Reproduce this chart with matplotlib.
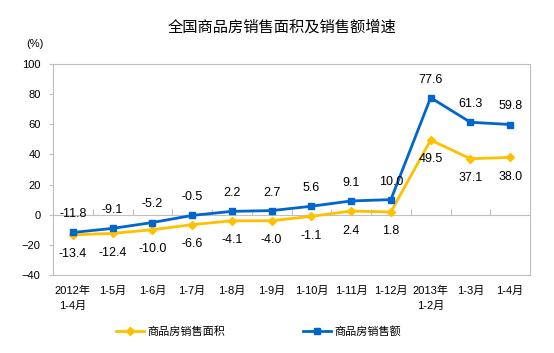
import numpy as np
import matplotlib
matplotlib.use("Agg")
import matplotlib.pyplot as plt

plt.rcParams['font.family'] = ['Liberation Sans', 'Noto Sans CJK SC', 'DejaVu Sans']

# Categories (months, cumulative)
months = ["2012年\n1-4月", "1-5月", "1-6月", "1-7月", "1-8月", "1-9月",
          "1-10月", "1-11月", "1-12月", "2013年\n1-2月", "1-3月", "1-4月"]
# Growth of floor space sold (%)
area_growth = [-13.4, -12.4, -10.0, -6.6, -4.1, -4.0, -1.1, 2.4, 1.8, 49.5, 37.1, 38.0]
# Growth of sales value (%)
sales_growth = [-11.8, -9.1, -5.2, -0.5, 2.2, 2.7, 5.6, 9.1, 10.0, 77.6, 61.3, 59.8]

yellow = '#FFC000'
blue = '#0066CC'
grey = '#BFBFBF'

fig = plt.figure(figsize=(5.54, 3.53), dpi=100)
ax = fig.add_axes([0.0957, 0.221, 0.861, 0.598])

x = np.arange(len(months))
ax.plot(x, area_growth, color=yellow, lw=2.0, marker='D', ms=4.5, label='商品房销售面积')
ax.plot(x, sales_growth, color=blue, lw=2.0, marker='s', ms=5, label='商品房销售额')

# Data labels: sales above, area below
for i in range(len(months)):
    ax.annotate(f"{sales_growth[i]:.1f}", (x[i], sales_growth[i]), xytext=(0, 13),
                textcoords='offset points', ha='center', va='center', fontsize=9)
    ax.annotate(f"{area_growth[i]:.1f}", (x[i], area_growth[i]), xytext=(0, -14),
                textcoords='offset points', ha='center', va='center', fontsize=9)

ax.set_xlim(-0.5, len(months) - 0.5)
ax.set_ylim(-40, 100)
ax.set_yticks(range(-40, 101, 20))
ax.tick_params(axis='y', labelsize=8, length=3, color=grey, pad=6)
ax.set_xticks(x)
ax.set_xticklabels(months, fontsize=8, linespacing=1.5)
ax.tick_params(axis='x', length=0, pad=8)
for s in ax.spines.values():
    s.set_color(grey)

# zero line with category boundary ticks
zero = ax.secondary_xaxis(40 / 140)
zero.set_xticks(np.arange(0.5, len(months) - 1, 1.0))
zero.set_xticklabels([])
zero.tick_params(direction='in', length=4, color=grey)
zero.spines['bottom'].set_color(grey)

fig.text(0.509, 0.923, "全国商品房销售面积及销售额增速", ha='center', va='center', fontsize=11)
fig.text(0.063, 0.875, "(%)", ha='center', va='center', fontsize=8)

fig.legend(loc='center', bbox_to_anchor=(0.467, 0.06), ncol=2, frameon=False,
           fontsize=8, columnspacing=7, handlelength=2.5, handletextpad=0.3)

fig.savefig("out.png", dpi=100)
